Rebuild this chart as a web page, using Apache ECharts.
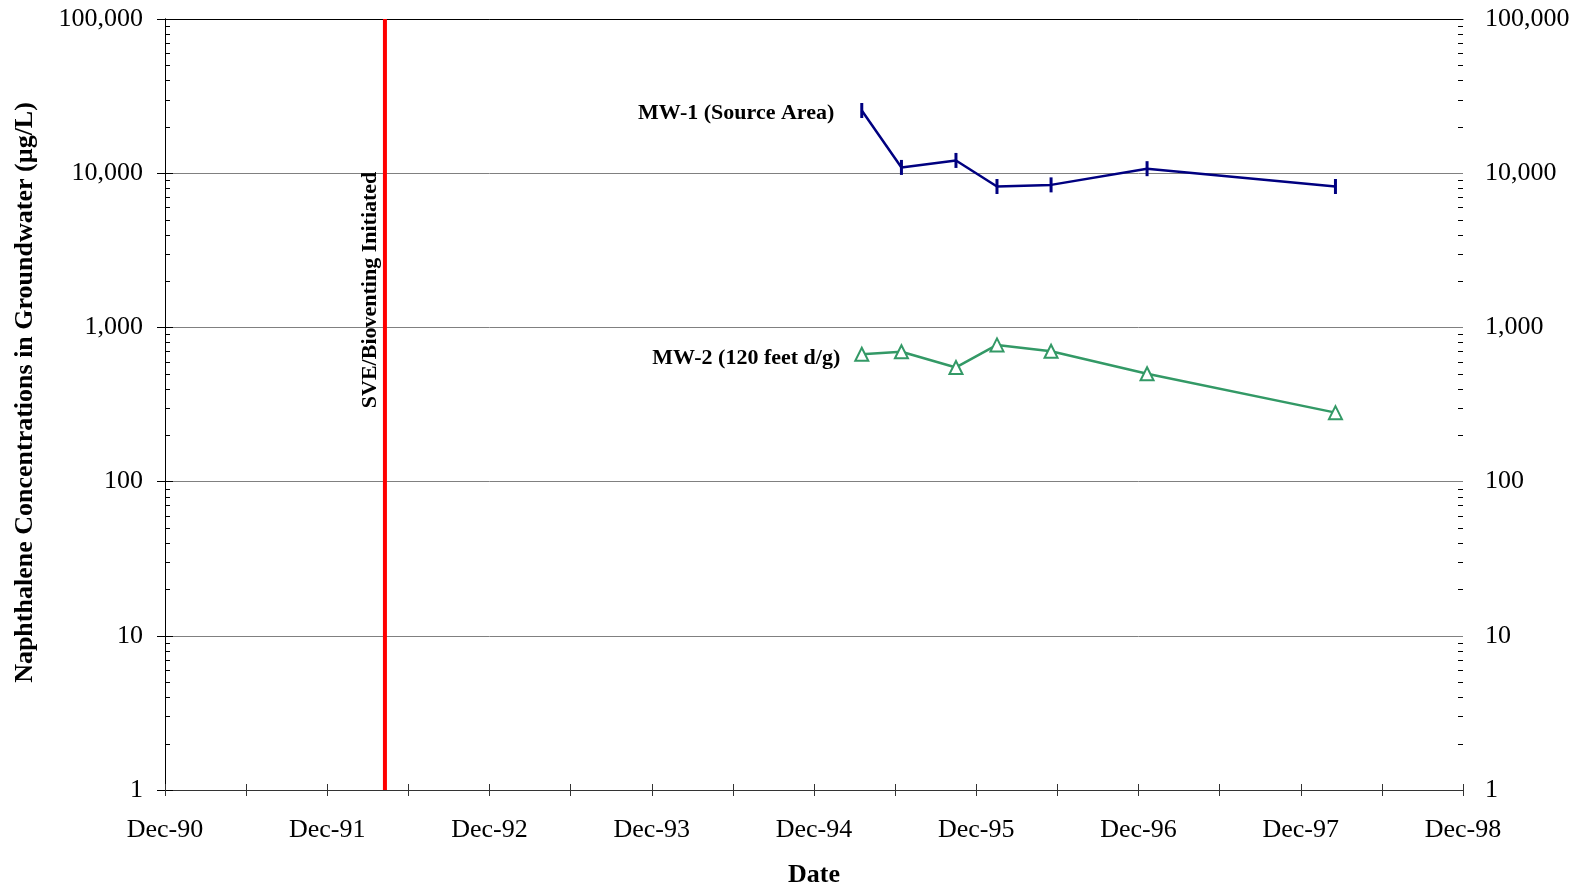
<!DOCTYPE html>
<html>
<head>
<meta charset="utf-8">
<script src="https://cdn.jsdelivr.net/npm/echarts@6/dist/echarts.min.js"></script>
<style>
html,body{margin:0;padding:0;background:#fff;}
#chart{width:1581px;height:889px;}
</style>
</head>
<body>
<div id="chart"></div>
<script>
// ---- data ----
var sampleDates = ['1995-03-17','1995-06-15','1995-10-16','1996-01-17','1996-05-17','1996-12-20','1998-02-18'];
var mw1Values = [25500, 10900, 12100, 8200, 8400, 10700, 8200];
var mw2Values = [670, 695, 550, 770, 700, 500, 280];
var seriesNames = ['MW-1 (Source Area)', 'MW-2 (120 feet d/g)'];
var xTickLabels = ['Dec-90','Dec-91','Dec-92','Dec-93','Dec-94','Dec-95','Dec-96','Dec-97','Dec-98'];
var sveDate = '1992-04-09';
var sveLabel = 'SVE/Bioventing Initiated';
var yMin = 1, yMax = 100000;
var xTitle = 'Date';
var yTitle = 'Naphthalene Concentrations in Groundwater (\u00b5g/L)';

// months since Dec-1990
function monthsSince(d){
  var p = d.split('-').map(Number);
  return (p[0]-1990)*12 + (p[1]-12) + (p[2]-1)/30;
}
var xMin = 0, xMax = (xTickLabels.length-1)*12;
var xs = sampleDates.map(monthsSince);
var sveX = monthsSince(sveDate);

var minorVals = [];
for (var k = 0; k < 5; k++) for (var m = 2; m <= 9; m++) minorVals.push([xMin, m*Math.pow(10,k)]);

var FONT = "'Liberation Serif','Times New Roman',serif";
var chart = echarts.init(document.getElementById('chart'));

function yAxisCfg(pos, withSplit){
  return {
    type:'log', logBase:10, min:yMin, max:yMax, position:pos,
    axisLine:{show:true, lineStyle:{color:'#000', width:1}},
    axisTick:{show:true, inside:false, length:8, lineStyle:{color:'#000'}},
    axisLabel:{show:true, margin:22, fontFamily:FONT, fontSize:26, color:'#000',
      formatter:function(v){return Number(v).toLocaleString('en-US');}},
    splitLine:{show:withSplit, lineStyle:{color:'#808080', width:1}},
    minorTick:{show:false}, minorSplitLine:{show:false}
  };
}

var option = {
  animation:false,
  backgroundColor:'#fff',
  grid:{left:165, right:118, top:19, bottom:99, containLabel:false, outerBoundsMode:'none'},
  xAxis:[
    {type:'value', min:xMin, max:xMax, interval:6, position:'bottom',
     axisLine:{show:true, lineStyle:{color:'#333', width:1}},
     axisTick:{show:true, length:6, lineStyle:{color:'#333'}},
     axisLabel:{fontFamily:FONT, fontSize:26, color:'#000', margin:27,
       formatter:function(v){ return (v%12===0) ? xTickLabels[v/12] : ''; }},
     splitLine:{show:false},
     name:xTitle, nameLocation:'middle', nameGap:72,
     nameTextStyle:{fontFamily:FONT, fontSize:26, fontWeight:'bold', color:'#000'}},
    {type:'value', min:xMin, max:xMax, interval:6, position:'bottom',
     axisLine:{show:false}, axisTick:{show:true, inside:true, length:6, lineStyle:{color:'#333'}},
     axisLabel:{show:false}, splitLine:{show:false}},
    {type:'value', min:xMin, max:xMax, position:'top',
     axisLine:{show:true, lineStyle:{color:'#000', width:1}}, axisTick:{show:false},
     axisLabel:{show:false}, splitLine:{show:false}}
  ],
  yAxis:[
    Object.assign(yAxisCfg('left', true), {
      name:yTitle, nameLocation:'middle', nameGap:127, nameRotate:90,
      nameTextStyle:{fontFamily:FONT, fontSize:26, fontWeight:'bold', color:'#000', padding:[0,0,0,24]}}),
    yAxisCfg('right', false)
  ],
  series:[
    {type:'custom', silent:true, z:1, xAxisIndex:0, yAxisIndex:0,
     data:minorVals, encode:{x:0, y:1},
     renderItem:function(params, api){
       var v = api.value(1);
       var pl = api.coord([xMin, v]);
       var pr = api.coord([xMax, v]);
       return {type:'group', children:[
         {type:'line', shape:{x1:pl[0], y1:Math.round(pl[1])+0.5, x2:pl[0]+5, y2:Math.round(pl[1])+0.5}, style:{stroke:'#000', lineWidth:1}},
         {type:'line', shape:{x1:pr[0]-5, y1:Math.round(pr[1])+0.5, x2:pr[0], y2:Math.round(pr[1])+0.5}, style:{stroke:'#000', lineWidth:1}}
       ]};
     }},
    {type:'line', name:'SVE', silent:true, z:3, symbol:'none',
     data:[[sveX, yMin],[sveX, yMax]],
     lineStyle:{color:'#ff0000', width:4}},
    {type:'line', name:seriesNames[0], z:5,
     data:xs.map(function(x,i){return [x, mw1Values[i]];}),
     symbol:'rect', symbolSize:[3,15],
     itemStyle:{color:'#000080'},
     lineStyle:{color:'#000080', width:2.5},
     label:{show:true, position:'left', distance:26, offset:[0,3], fontFamily:FONT, fontSize:22, fontWeight:'bold', color:'#000',
       formatter:function(p){return p.dataIndex===0 ? seriesNames[0] : '';}}},
    {type:'line', name:seriesNames[1], z:5,
     data:xs.map(function(x,i){return [x, mw2Values[i]];}),
     symbol:'triangle', symbolSize:13,
     itemStyle:{color:'#fff', borderColor:'#339966', borderWidth:2},
     lineStyle:{color:'#339966', width:2.5},
     label:{show:true, position:'left', distance:14, offset:[0,4], fontFamily:FONT, fontSize:22, fontWeight:'bold', color:'#000',
       formatter:function(p){return p.dataIndex===0 ? seriesNames[1] : '';}}}
  ]
};
chart.setOption(option);

// label along the SVE line
var pTop = chart.convertToPixel({gridIndex:0}, [sveX, 1750]);
chart.setOption({graphic:[{
  type:'text', x:pTop[0]-15, y:pTop[1], rotation:Math.PI/2, z:10,
  style:{text:sveLabel, fontFamily:FONT, fontSize:22, fontWeight:'bold', fill:'#000', align:'center', verticalAlign:'middle'}
}]});
</script>
</body>
</html>
